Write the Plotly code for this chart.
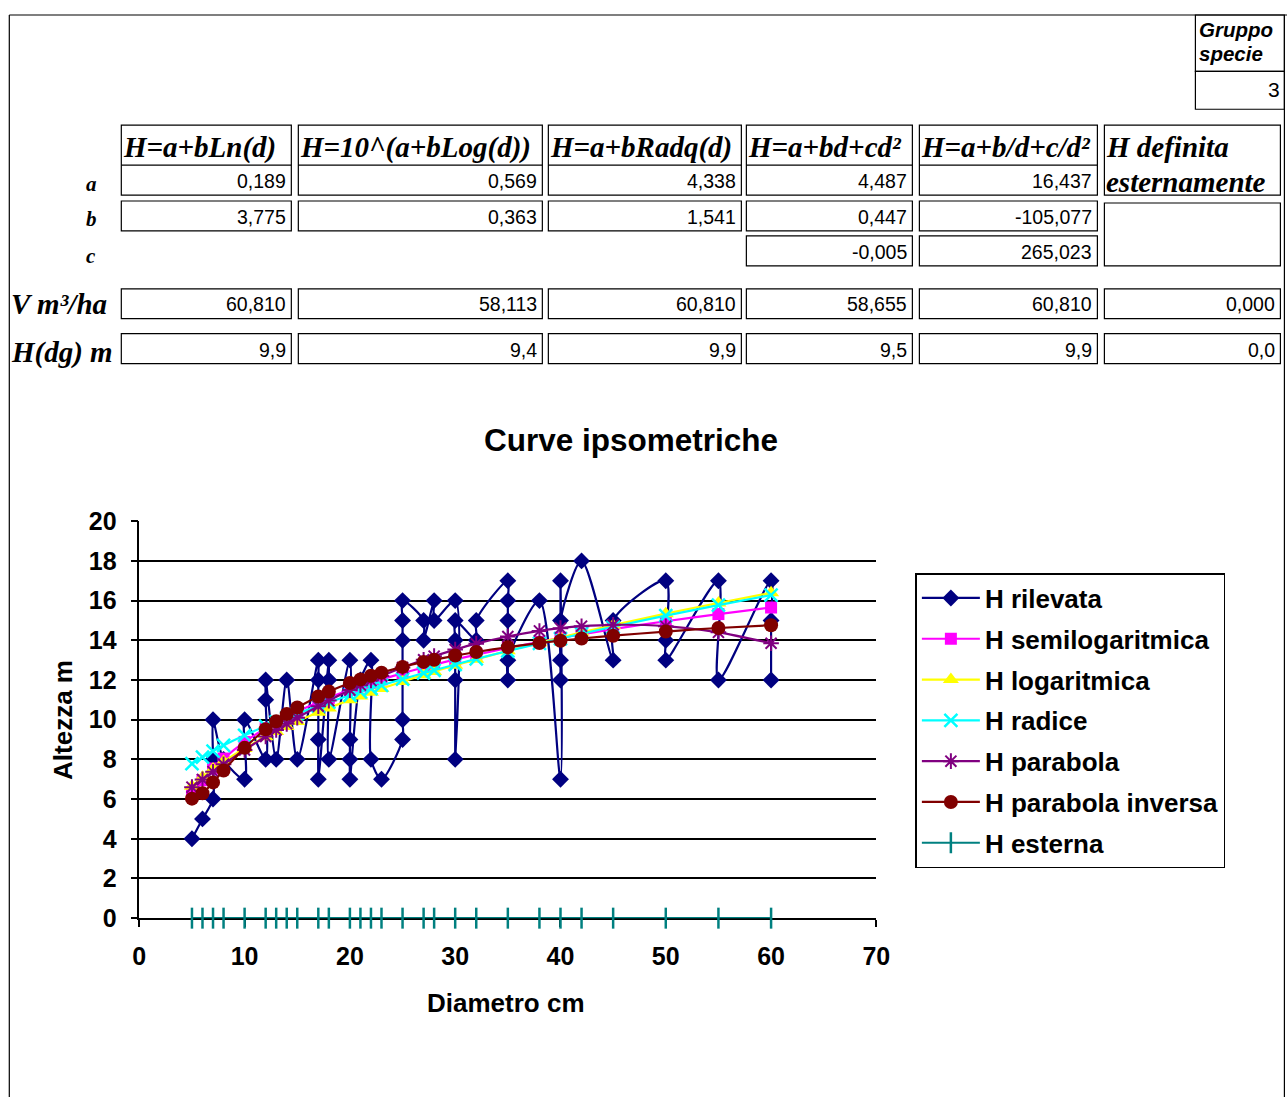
import plotly.graph_objects as go

# ---------------- data ----------------
d_rilevata = [5, 6, 7, 7, 7, 8, 10, 10, 12, 12, 12, 13, 14, 15,
              17, 17, 17, 17, 18, 18, 18, 20, 20, 20, 20, 21, 22, 22, 23,
              25, 25, 25, 25, 25, 27, 27, 28, 28, 30, 30, 30, 30, 30, 32, 32,
              35, 35, 35, 35, 35, 38, 40, 40, 40, 40, 40, 42, 45, 45,
              50, 50, 50, 55, 55, 60, 60, 60]
h_rilevata = [4, 5, 6, 8, 10, 8, 7, 10, 8, 11, 12, 8, 12, 8,
              13, 12, 9, 7, 13, 12, 8, 13, 9, 8, 7, 12, 13, 8, 7,
              9, 10, 14, 15, 16, 15, 14, 16, 15, 16, 8, 12, 14, 15, 14, 15,
              17, 16, 15, 12, 13, 16, 7, 17, 12, 13, 15, 18, 13, 15,
              17, 14, 13, 17, 12, 17, 15, 12]

diametri = [5, 6, 7, 8, 10, 12, 13, 14, 15, 17, 18, 20, 21, 22, 23,
            25, 27, 28, 30, 32, 35, 38, 40, 42, 45, 50, 55, 60]
h_semilog = [6.27, 6.95, 7.54, 8.04, 8.88, 9.57, 9.87, 10.15, 10.41, 10.88, 11.10,
             11.50, 11.68, 11.86, 12.03, 12.34, 12.63, 12.77, 13.03, 13.27, 13.61,
             13.92, 14.12, 14.30, 14.56, 14.96, 15.32, 15.65]
h_log = [6.65, 7.10, 7.51, 7.89, 8.55, 9.14, 9.41, 9.66, 9.91, 10.37, 10.59,
         11.00, 11.19, 11.38, 11.57, 11.92, 12.26, 12.43, 12.74, 13.04, 13.47,
         13.88, 14.14, 14.40, 14.76, 15.34, 15.88, 16.39]
h_radice = [7.78, 8.11, 8.42, 8.70, 9.21, 9.68, 9.89, 10.10, 10.31, 10.69, 10.88,
            11.23, 11.40, 11.57, 11.73, 12.04, 12.35, 12.49, 12.78, 13.06, 13.46,
            13.84, 14.08, 14.33, 14.68, 15.24, 15.77, 16.28]
h_parabola = [6.60, 6.99, 7.38, 7.75, 8.47, 9.15, 9.48, 9.79, 10.10, 10.68, 10.96,
              11.49, 11.74, 11.97, 12.20, 12.63, 13.02, 13.20, 13.53, 13.83, 14.19,
              14.47, 14.61, 14.71, 14.78, 14.71, 14.40, 13.85]
h_par_inv = [6.02, 6.29, 6.84, 7.44, 8.58, 9.52, 9.92, 10.28, 10.61, 11.17, 11.42,
             11.85, 12.03, 12.21, 12.37, 12.66, 12.91, 13.02, 13.23, 13.41, 13.65,
             13.86, 13.98, 14.09, 14.23, 14.44, 14.62, 14.76]
h_esterna = [0, 0, 0, 0, 0, 0, 0, 0, 0, 0, 0, 0, 0, 0,
             0, 0, 0, 0, 0, 0, 0, 0, 0, 0, 0, 0, 0, 0]

# table contents
formule = ["H=a+bLn(d)", "H=10^(a+bLog(d))", "H=a+bRadq(d)", "H=a+bd+cd²", "H=a+b/d+c/d²"]
coef_a = ["0,189", "0,569", "4,338", "4,487", "16,437"]
coef_b = ["3,775", "0,363", "1,541", "0,447", "-105,077"]
coef_c = ["", "", "", "-0,005", "265,023"]
vol_ha = ["60,810", "58,113", "60,810", "58,655", "60,810", "0,000"]
h_dg = ["9,9", "9,4", "9,9", "9,5", "9,9", "0,0"]
gruppo_specie = "3"

W, H = 1287, 1097
SANS = "Liberation Sans, Arial, sans-serif"
SERIF = "Liberation Serif, Times New Roman, serif"

# the page is shown slightly inset/scaled; compensate so marks land where intended
AX, BX = 6.7, 0.9836
AY, BY = 12.5, 0.977


def px(x):
    return ((x - AX) / BX) / W


def py(y):
    return 1 - ((y - AY) / BY) / H


fig = go.Figure()

series = [
    ("H rilevata", d_rilevata, h_rilevata, "#000080", "diamond", 13, 0),
    ("H semilogaritmica", diametri, h_semilog, "#FF00FF", "square", 12, 0),
    ("H logaritmica", diametri, h_log, "#FFFF00", "triangle-up", 14, 0),
    ("H radice", diametri, h_radice, "#00FFFF", "x-thin-open", 13, 2.5),
    ("H parabola", diametri, h_parabola, "#800080", "asterisk-open", 13, 2),
    ("H parabola inversa", diametri, h_par_inv, "#800000", "circle", 14, 0),
    ("H esterna", diametri, h_esterna, "#008080", "line-ns-open", 15, 2.5),
]
for i, (name, xs, ys, col, sym, sz, lw) in enumerate(series):
    mk = dict(symbol=sym, size=sz, color=col)
    if lw:
        mk["line"] = dict(color=col, width=lw)
    else:
        mk["line"] = dict(width=0)
    fig.add_trace(go.Scatter(
        x=xs, y=ys, name=name, mode="lines+markers",
        line=dict(color=col, width=2.2, shape="spline", smoothing=0.8),
        marker=mk, legendgroup=f"g{i}", cliponaxis=False,
    ))

fig.update_xaxes(
    domain=[px(139), px(876)], range=[0, 70], dtick=10, tick0=0,
    showgrid=False, zeroline=False, showline=True, linecolor="black", linewidth=1.5,
    ticks="outside", ticklen=7, tickcolor="black", tickwidth=1.5,
    tickfont=dict(family=SANS, size=25, color="black", weight="bold"),
    ticklabelstandoff=8, layer="below traces",
)
fig.update_yaxes(
    domain=[py(919), py(521)], range=[0, 20], dtick=2, tick0=0,
    showgrid=True, gridcolor="black", gridwidth=1.5, zeroline=False,
    showline=True, linecolor="black", linewidth=1.5,
    ticks="outside", ticklen=7, tickcolor="black", tickwidth=1.5,
    tickfont=dict(family=SANS, size=25, color="black", weight="bold"),
    ticklabelstandoff=9, layer="below traces",
)

annotations = []
shapes = []


def text(x, y, s, size, family=SANS, bold=False, italic=False, xanchor="left", yanchor="middle", angle=0):
    t = s
    if bold:
        t = f"<b>{t}</b>"
    if italic:
        t = f"<i>{t}</i>"
    annotations.append(dict(
        x=px(x), y=py(y), xref="paper", yref="paper", text=t, showarrow=False,
        xanchor=xanchor, yanchor=yanchor, textangle=angle,
        font=dict(family=family, size=size, color="black"),
    ))


def rect(x0, y0, x1, y1, w=1.2):
    shapes.append(dict(type="rect", xref="paper", yref="paper",
                       x0=px(x0), x1=px(x1), y0=py(y1), y1=py(y0),
                       line=dict(color="black", width=w)))


def line(x0, y0, x1, y1, w=1.2):
    shapes.append(dict(type="line", xref="paper", yref="paper",
                       x0=px(x0), x1=px(x1), y0=py(y0), y1=py(y1),
                       line=dict(color="black", width=w)))


# page border
TOP = 13.5
line(9, TOP, 1300, TOP)
line(9, TOP, 9, 1110)
line(1284, TOP, 1284, 1110)

# Gruppo specie box
rect(1195, TOP, 1284, 70)
rect(1195, 70, 1284, 108)
text(1197, 28, "Gruppo", 20.5, SANS, bold=True, italic=True)
text(1197, 52, "specie", 20.5, SANS, bold=True, italic=True)
text(1282, 88, gruppo_specie, 21, SANS, xanchor="right")

cols = [(121, 291), (298, 542), (548, 741), (746, 912), (919, 1097), (1104, 1280)]
VS = 19.5

for i, (x0, x1) in enumerate(cols[:5]):
    rect(x0, 124, x1, 194)
    line(x0, 164, x1, 164)
    text(x0, 146, formule[i], 29, SERIF, bold=True, italic=True)
    text(x1 - 3, 180, coef_a[i], VS, SANS, xanchor="right")
    rect(x0, 200, x1, 230)
    text(x1 - 3, 216, coef_b[i], VS, SANS, xanchor="right")
    if coef_c[i]:
        rect(x0, 235, x1, 265)
        text(x1 - 3, 251, coef_c[i], VS, SANS, xanchor="right")

x0, x1 = cols[5]
rect(x0, 124, x1, 194)
text(x0, 146, "H definita", 29, SERIF, bold=True, italic=True)
text(x0, 181, "esternamente", 29, SERIF, bold=True, italic=True)
rect(x0, 202, x1, 265)

for i, (x0, x1) in enumerate(cols):
    rect(x0, 288, x1, 318)
    text(x1 - 3, 303, vol_ha[i], VS, SANS, xanchor="right")
    rect(x0, 333, x1, 363)
    text(x1 - 3, 349, h_dg[i], VS, SANS, xanchor="right")

text(91, 183, "a", 21, SERIF, bold=True, italic=True, xanchor="center")
text(91, 218, "b", 21, SERIF, bold=True, italic=True, xanchor="center")
text(91, 255, "c", 21, SERIF, bold=True, italic=True, xanchor="center")
text(9, 303, "V m³/ha", 29, SERIF, bold=True, italic=True)
text(9, 352, "H(dg) m", 29, SERIF, bold=True, italic=True)

# chart titles
text(631, 440, "Curve ipsometriche", 31.5, SANS, bold=True, xanchor="center")
text(506, 1004, "Diametro cm", 26, SANS, bold=True, xanchor="center")
text(62, 720, "Altezza m", 26, SANS, bold=True, xanchor="center", angle=-90)

fig.update_layout(
    width=W, height=H, autosize=False, margin=dict(l=0, r=0, t=0, b=0),
    paper_bgcolor="white", plot_bgcolor="white",
    annotations=annotations, shapes=shapes,
    showlegend=True,
    legend=dict(
        x=px(915), y=py(573), xanchor="left", yanchor="top",
        bgcolor="white", bordercolor="black", borderwidth=1.5,
        font=dict(family=SANS, size=26, color="black", weight="bold"),
        itemwidth=58, tracegroupgap=4, traceorder="grouped",
    ),
)

fig.write_html(
    "out.html",
    config={"responsive": False, "displayModeBar": False},
    post_script="document.body.style.margin='0px';document.body.style.overflow='hidden';",
)
